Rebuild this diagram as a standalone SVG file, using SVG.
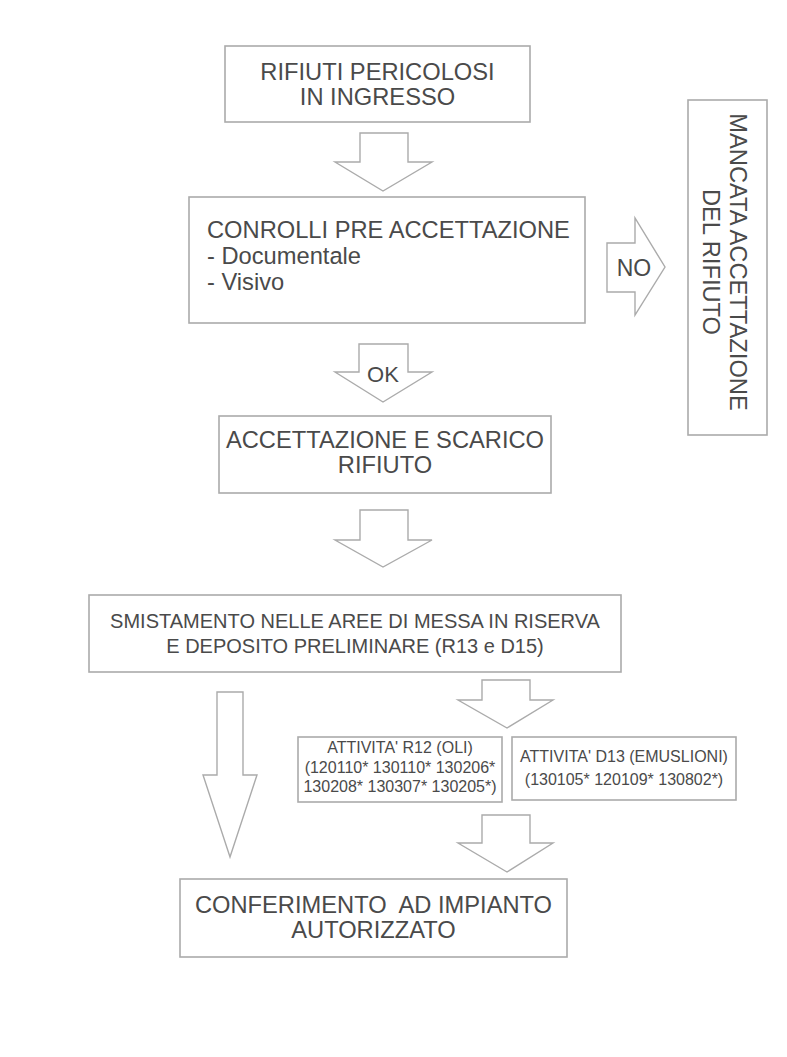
<svg xmlns="http://www.w3.org/2000/svg" width="787" height="1057" viewBox="0 0 787 1057">
<style>
.box{fill:#fff;stroke:#ababab;stroke-width:1.6}
.arr{fill:#fff;stroke:#ababab;stroke-width:1.4;stroke-linejoin:miter}
.t{font-family:"Liberation Sans",Arial,sans-serif;font-size:23.7px;fill:#4a4a4a}
.s{font-family:"Liberation Sans",Arial,sans-serif;font-size:16px;fill:#4a4a4a}
.c{text-anchor:middle}
</style>
<rect width="787" height="1057" fill="#fff"/>
<g id="connectors">
<polygon class="arr" points="360,133 408,133 408,162 432,162 383,191 335,162 360,162"/>
<g id="no-arrow"><polygon class="arr" points="607,243 635,243 635,218 665,267 635,315 635,292 607,292"/><text class="t c" x="634" y="276" style="font-size:23px">NO</text></g>
<g id="ok-arrow"><polygon class="arr" points="359,344 408,344 408,372 432,372 383,402 335,372 359,372"/><text class="t c" x="383" y="382" style="font-size:22px">OK</text></g>
<polygon class="arr" points="360,510 408,510 408,540 432,540 383,567 335,540 360,540"/>
<polygon class="arr" points="482,680 530,680 530,700 553,700 507,728 458,700 482,700"/>
<polygon class="arr" points="482,815 530,815 530,843 553,843 507,872 458,843 482,843"/>
<polygon class="arr" points="217,692 243,692 243,775 257,775 230,857 203,775 217,775"/>
</g>
<g id="n1"><rect class="box" x="225" y="46" width="305" height="76"/>
<text class="t c" x="377.5" y="80">RIFIUTI PERICOLOSI</text><text class="t c" x="377.5" y="105">IN INGRESSO</text></g>
<g id="n2"><rect class="box" x="189" y="197" width="396" height="126"/>
<text class="t" x="207" y="238">CONROLLI PRE ACCETTAZIONE</text><text class="t" x="207" y="264">- Documentale</text><text class="t" x="207" y="290">- Visivo</text></g>
<g id="n3"><rect class="box" x="688" y="100" width="79" height="335"/>
<text class="t c" transform="translate(730,262) rotate(90)">MANCATA ACCETTAZIONE</text>
<text class="t c" transform="translate(703,262) rotate(90)">DEL RIFIUTO</text></g>
<g id="n4"><rect class="box" x="219" y="416" width="332" height="77"/>
<text class="t c" x="385" y="448">ACCETTAZIONE E SCARICO</text><text class="t c" x="385" y="473">RIFIUTO</text></g>
<g id="n5"><rect class="box" x="89" y="595" width="532" height="77"/>
<text class="t c" x="355" y="628" style="font-size:20px">SMISTAMENTO NELLE AREE DI MESSA IN RISERVA</text><text class="t c" x="355" y="653" style="font-size:20px">E DEPOSITO PRELIMINARE (R13 e D15)</text></g>
<g id="n6"><rect class="box" x="298" y="737" width="204" height="65"/>
<text class="s c" x="400" y="753">ATTIVITA' R12 (OLI)</text><text class="s c" x="400" y="773">(120110* 130110* 130206*</text><text class="s c" x="400" y="792">130208* 130307* 130205*)</text></g>
<g id="n7"><rect class="box" x="512" y="737" width="224" height="63"/>
<text class="s c" x="624" y="762">ATTIVITA' D13 (EMUSLIONI)</text><text class="s c" x="624" y="785">(130105* 120109* 130802*)</text></g>
<g id="n8"><rect class="box" x="180" y="879" width="387" height="78"/>
<text class="t c" x="373.5" y="913" xml:space="preserve">CONFERIMENTO  AD IMPIANTO</text><text class="t c" x="373.5" y="938">AUTORIZZATO</text></g>
</svg>
